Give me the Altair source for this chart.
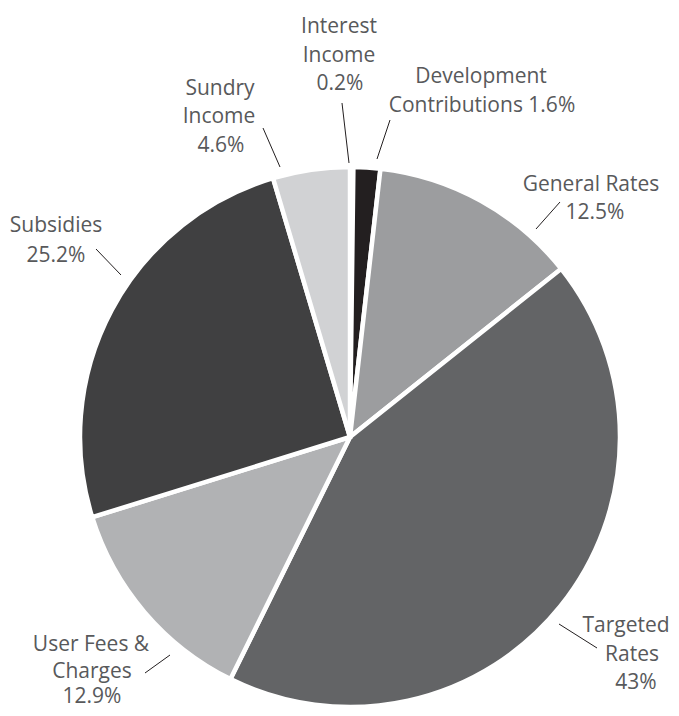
import altair as alt
import pandas as pd

# ---- data -------------------------------------------------------------
categories = [
    "Interest Income",
    "Development Contributions",
    "General Rates",
    "Targeted Rates",
    "User Fees & Charges",
    "Subsidies",
    "Sundry Income",
]
shares = [0.2, 1.6, 12.5, 43.0, 12.9, 25.2, 4.6]
slice_colors = ["#ffffff", "#231f20", "#9c9d9f", "#636466", "#b1b2b4", "#404041", "#d1d2d4"]

# label text, one entry per printed line
label_text = [
    "Interest", "Income", "0.2%",
    "Development", "Contributions 1.6%",
    "General Rates", "12.5%",
    "Targeted", "Rates", "43%",
    "User Fees &", "Charges", "12.9%",
    "Subsidies", "25.2%",
    "Sundry", "Income", "4.6%",
]

# ---- layout (page pixel coordinates) -----------------------------------
label_x = [339, 339, 340, 481, 482, 591, 595, 626, 632, 636, 91, 92, 92, 56, 56, 220, 219, 221]
label_y = [33, 61.5, 90, 83, 112, 191, 219, 632, 661, 689, 651, 677.5, 703, 232, 262, 95, 123, 152]

lead_x1 = [342, 390, 560, 559, 170, 96, 263]
lead_y1 = [103, 120, 202, 624, 655, 249, 128]
lead_x2 = [349, 377, 536, 597, 145, 121, 280]
lead_y2 = [163, 159, 229, 648, 673, 275, 167]

W, H = 663, 700
OX, OY = 8, 8
CX, CY, R = 350, 437, 270

pie_df = pd.DataFrame({"category": categories, "share": shares, "order": list(range(len(categories)))})
lab_df = pd.DataFrame({"text": label_text, "x": label_x, "y": label_y})
lead_df = pd.DataFrame({"x": lead_x1, "y": lead_y1, "x2": lead_x2, "y2": lead_y2})

xs = alt.Scale(domain=[OX, OX + W], range=[0, W], nice=False, zero=False)
ys = alt.Scale(domain=[OY, OY + H], range=[0, H], nice=False, zero=False)

pie = alt.Chart(pie_df).mark_arc(
    radius=R, stroke="white", strokeWidth=4.5
).encode(
    theta=alt.Theta("share:Q", stack=True),
    order=alt.Order("order:Q"),
    color=alt.Color("category:N", scale=alt.Scale(domain=categories, range=slice_colors), legend=None),
    x=alt.value(CX - OX),
    y=alt.value(CY - OY),
)

leaders = alt.Chart(lead_df).mark_rule(color="#231f20", strokeWidth=1).encode(
    x=alt.X("x:Q", scale=xs, axis=None),
    y=alt.Y("y:Q", scale=ys, axis=None),
    x2="x2:Q",
    y2="y2:Q",
)

labels = alt.Chart(lab_df).mark_text(
    font="Open Sans", fontSize=21, color="#58595b", align="center", baseline="alphabetic"
).encode(
    x=alt.X("x:Q", scale=xs, axis=None),
    y=alt.Y("y:Q", scale=ys, axis=None),
    text="text:N",
)

chart = alt.layer(pie, leaders, labels).properties(
    width=W, height=H, padding=0, autosize=alt.AutoSizeParams(type="none")
).configure_view(stroke=None)

chart.save("out.html", embed_options={"renderer": "svg", "actions": False})
